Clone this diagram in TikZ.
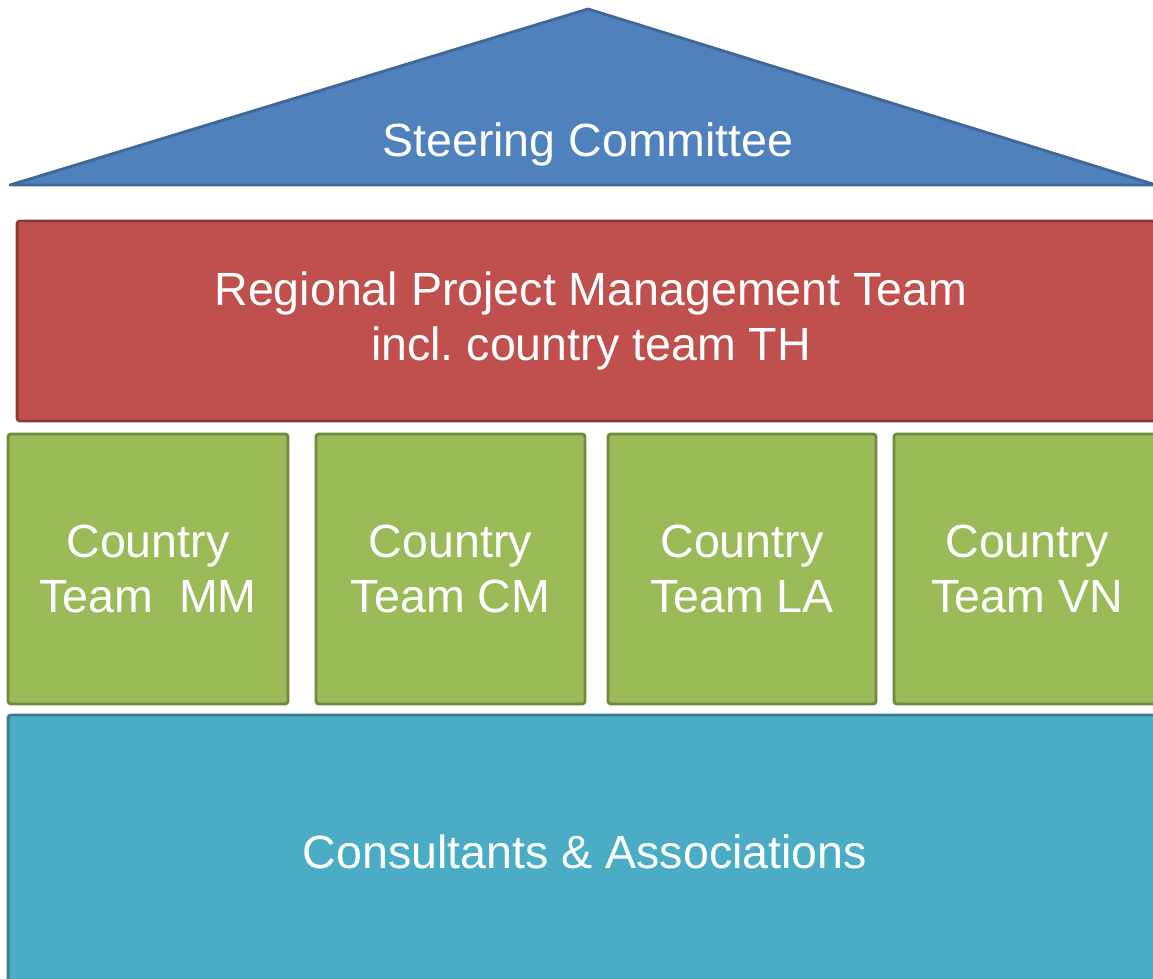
\documentclass[tikz,border=0pt]{standalone}
\usepackage{fontspec}
\setmainfont{Liberation Sans}
\usepackage{xcolor}
\definecolor{roofblue}{HTML}{4F81BD}
\definecolor{roofline}{HTML}{3F6797}
\definecolor{mgmtred}{HTML}{C0504D}
\definecolor{mgmtline}{HTML}{8C3836}
\definecolor{teamgreen}{HTML}{9BBB59}
\definecolor{teamline}{HTML}{71893F}
\definecolor{baseaqua}{HTML}{4BACC6}
\definecolor{baseline}{HTML}{357D91}
\tikzset{
	block/.style={
			draw, line width=1.6pt, rounded corners=1.5pt,
			text=white, align=center, inner sep=0pt,
			font=\fontsize{26.5}{31.5}\selectfont
		},
	teambox/.style={block, fill=teamgreen, draw=teamline, minimum height=5.4cm}
}

\begin{document}
\begin{tikzpicture}[x=0.02cm, y=-0.02cm]
		\useasboundingbox (0,0) rectangle (1153,979);

		% Draw roof
		\draw[fill=roofblue, draw=roofline, line width=1.6pt, line join=round]
			(10,185) -- (588,9) -- (1156,185) -- cycle;
		\node[text=white, font=\fontsize{26.5}{31.5}\selectfont] (steer) at (588,144) {Steering Committee};

		% Draw management team
		\node[block, fill=mgmtred, draw=mgmtline, minimum width=22.96cm, minimum height=4cm]
			(rpmt) at (591,321) {Regional Project Management Team\\incl.\ country team TH};

		% Draw country teams
		\node[teambox, minimum width=5.6cm] (mm) at (148,569) {Country\\Team\ \ MM};
		\node[teambox, minimum width=5.38cm] (cm) at (450.5,569) {Country\\Team CM};
		\node[teambox, minimum width=5.36cm] (la) at (742,569) {Country\\Team LA};
		\node[teambox, minimum width=5.32cm] (vn) at (1027,569) {Country\\Team VN};

		% Draw consultants
		\node[block, fill=baseaqua, draw=baseline, minimum width=23.08cm, minimum height=5.48cm]
			(cons) at (585,852) {Consultants \& Associations};
	\end{tikzpicture}
\end{document}
